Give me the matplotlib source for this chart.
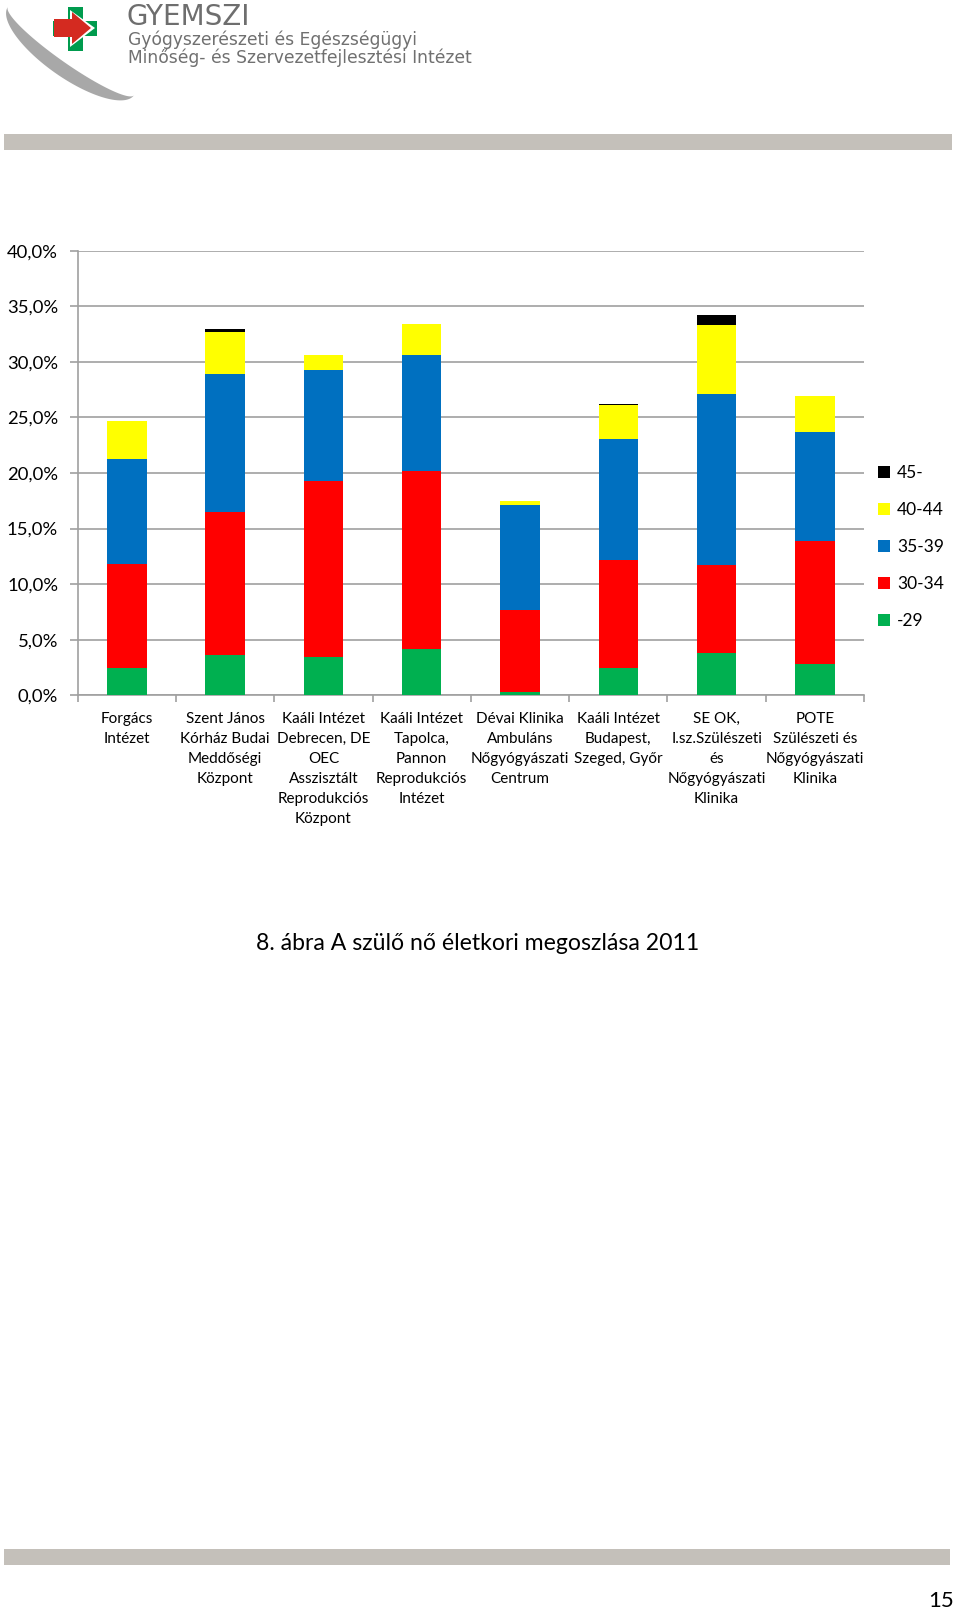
import matplotlib
matplotlib.use('Agg')
import matplotlib.pyplot as plt
from matplotlib.patches import Polygon, Rectangle
import numpy as np

# intézmények (x tengely)
categories = [
    'Forgács\nIntézet',
    'Szent János\nKórház Budai\nMeddőségi\nKözpont',
    'Kaáli Intézet\nDebrecen, DE\nOEC\nAsszisztált\nReprodukciós\nKözpont',
    'Kaáli Intézet\nTapolca,\nPannon\nReprodukciós\nIntézet',
    'Dévai Klinika\nAmbuláns\nNőgyógyászati\nCentrum',
    'Kaáli Intézet\nBudapest,\nSzeged, Győr',
    'SE OK,\nI.sz.Szülészeti\nés\nNőgyógyászati\nKlinika',
    'POTE\nSzülészeti és\nNőgyógyászati\nKlinika',
]

# korcsoportok szerinti arányok (%)
age_groups = ['-29', '30-34', '35-39', '40-44', '45-']
under29 = [2.43, 3.60, 3.45, 4.14, 0.30, 2.43, 3.84, 2.79]
age30_34 = [9.41, 12.89, 15.83, 16.01, 7.38, 9.74, 7.88, 11.09]
age35_39 = [9.39, 12.42, 9.99, 10.49, 9.47, 10.92, 15.36, 9.84]
age40_44 = [3.45, 3.77, 1.31, 2.76, 0.36, 3.06, 6.20, 3.21]
over45 = [0.0, 0.24, 0.0, 0.0, 0.0, 0.09, 0.96, 0.0]

colors = ['#00B050', '#FF0000', '#0070C0', '#FFFF00', '#000000']

yticks = [0, 5, 10, 15, 20, 25, 30, 35, 40]

W, H = 960, 1611
fig = plt.figure(figsize=(W / 100, H / 100), dpi=100)
plt.rcParams['font.family'] = ['Lato', 'DejaVu Sans']

# page decoration (header logo, bars, caption) in pixel coords
page = fig.add_axes([0, 0, 1, 1])
page.set_xlim(0, W)
page.set_ylim(H, 0)
page.axis('off')

# gray swoosh
t = np.linspace(0, np.pi, 100)
a, b1, b2 = 77, 27, 13
cx, cy = 71, 51
ang = np.deg2rad(35)
maj = np.array([np.cos(ang), np.sin(ang)])
mnr = np.array([-np.sin(ang), np.cos(ang)])
outer = [(cx + a * np.cos(s) * maj[0] + b1 * np.sin(s) * mnr[0],
          cy + a * np.cos(s) * maj[1] + b1 * np.sin(s) * mnr[1]) for s in t]
inner = [(cx + a * np.cos(s) * maj[0] + b2 * np.sin(s) * mnr[0],
          cy + a * np.cos(s) * maj[1] + b2 * np.sin(s) * mnr[1]) for s in t[::-1]]
page.add_patch(Polygon(outer + inner, closed=True, color='#A8A8A8', lw=0))

# green cross
page.add_patch(Rectangle((68, 7), 15, 44, color='#009B4E', lw=0))
page.add_patch(Rectangle((53, 21), 44, 15, color='#009B4E', lw=0))
# red arrow with white edge
page.add_patch(Polygon([(70, 10), (95, 28), (70, 47)], closed=True,
                       color='white', lw=0))
page.add_patch(Polygon([(54, 19), (72, 19), (72, 12), (91, 28), (72, 44),
                        (72, 37), (54, 37)], closed=True, color='#D42A20', lw=0))

page.text(126, 17, 'GYEMSZI', fontsize=20, color='#6E6E6E',
          family='DejaVu Sans', va='center', ha='left')
page.text(128, 40, 'Gyógyszerészeti és Egészségügyi', fontsize=12.3,
          color='#707070', family='DejaVu Sans', va='center', ha='left')
page.text(128, 58, 'Minőség- és Szervezetfejlesztési Intézet', fontsize=12.3,
          color='#707070', family='DejaVu Sans', va='center', ha='left')

page.add_patch(Rectangle((4, 134), 948, 16, color='#C4C0BA', lw=0))
page.add_patch(Rectangle((4, 1549), 946, 16, color='#C4C0BA', lw=0))

page.text(478, 943, '8. ábra A szülő nő életkori megoszlása 2011', fontsize=16.6,
          ha='center', va='center', color='black')
page.text(954, 1601, '15', fontsize=16, ha='right', va='center', color='black')

# chart
ax = fig.add_axes([77.7 / W, 1 - 695.3 / H, (864 - 77.7) / W, (695.3 - 250.7) / H])
x = np.arange(len(categories)) + 0.5
series = [under29, age30_34, age35_39, age40_44, over45]
bottom = np.zeros(len(categories))
handles = []
for vals, col, lab in zip(series, colors, age_groups):
    h = ax.bar(x, vals, width=0.4, bottom=bottom, color=col, label=lab, zorder=3)
    handles.append(h)
    bottom += np.array(vals)

ax.set_xlim(0, len(categories))
ax.set_ylim(0, 40)
ax.set_yticks(yticks)
ax.yaxis.set_major_formatter(matplotlib.ticker.FuncFormatter(
    lambda v, p: ('%.1f%%' % v).replace('.', ',')))
ax.grid(axis='y', color='#A0A0A0', lw=1.2, zorder=0)
ax.set_xticks(x)
ax.set_xticklabels(categories, fontsize=11, linespacing=1.55)
ax.set_xticks(np.arange(len(categories) + 1), minor=True)
ax.tick_params(axis='x', which='major', length=0, pad=12)
ax.tick_params(axis='x', which='minor', length=5, color='#A0A0A0', width=1.2)
ax.tick_params(axis='y', length=5.5, color='#A0A0A0', width=1.2, labelsize=13.3, pad=8.5)
for s in ['top', 'right']:
    ax.spines[s].set_visible(False)
for s in ['left', 'bottom']:
    ax.spines[s].set_color('#A0A0A0')
    ax.spines[s].set_linewidth(1.2)

fig.legend(handles[::-1], age_groups[::-1], loc='center left',
           bbox_to_anchor=(878 / W, 1 - 547 / H), frameon=False, fontsize=12.5,
           handlelength=0.7, handleheight=0.7, handletextpad=0.4,
           labelspacing=1.2, borderpad=0, borderaxespad=0)

fig.savefig('out.png', dpi=100, facecolor='white')
